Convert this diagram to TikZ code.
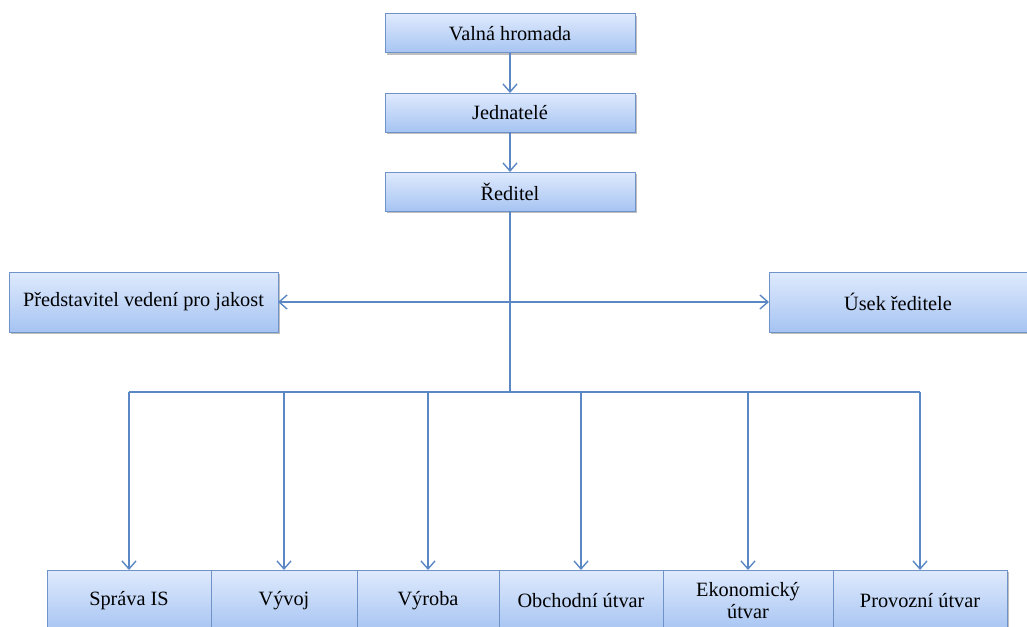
\documentclass[tikz,border=0pt]{standalone}
\usepackage{fontspec}
\setmainfont{Liberation Serif}
\newfontfamily\patkove{Liberation Serif}
\usepackage{tikz}
\usetikzlibrary{
  arrows.meta,
  positioning,
  calc,
  shadows
}
\definecolor{ramecek}{HTML}{6F93C9}
\definecolor{horni}{HTML}{DFEAFD}
\definecolor{dolni}{HTML}{A6C4F2}
\definecolor{cara}{HTML}{5B87C4}

\begin{document}
\begin{tikzpicture}[
      x=1pt, y=-1pt,
      node distance=40pt,
      utvar/.style={draw=ramecek, line width=1pt, top color=horni, bottom color=dolni, outer sep=0pt, align=center, font=\patkove\fontsize{20.3}{22}\selectfont, drop shadow={shadow xshift=1.5pt, shadow yshift=-2pt, opacity=0.25, fill=black}},
      vedeni/.style={utvar, minimum width=250pt, minimum height=39pt},
      bocni/.style={utvar, minimum height=60pt},
      oddeleni/.style={utvar, minimum height=62pt},
      spoj/.style={draw=cara, line width=1.5pt},
      sipka/.style={spoj, -{Straight Barb[length=8pt, width=14pt, line width=1.4pt]}}
  ]
    \clip (0,0) rectangle (1027,626);

    \node [vedeni] at (510,33.5) (valna) {Valná hromada};
    \node [vedeni, below=of valna] (jedn) {Jednatelé};
    \node [vedeni, below=of jedn] (red) {Ředitel};

    \node [bocni, minimum width=269pt] at (143.5,302) (jakost) {Představitel vedení pro jakost};
    \node [bocni, minimum width=258pt] at (898,302) (usek) {Úsek ředitele};

    \node [oddeleni, minimum width=164pt] at (129,601) (sprava) {Správa IS};
    \node [oddeleni, minimum width=146pt, right=0pt of sprava] (vyvoj) {Vývoj};
    \node [oddeleni, minimum width=142pt, right=0pt of vyvoj] (vyroba) {Výroba};
    \node [oddeleni, minimum width=164pt, right=0pt of vyroba] (obchod) {Obchodní útvar};
    \node [oddeleni, minimum width=170pt, right=0pt of obchod] (ekon) {Ekonomický\\útvar};
    \node [oddeleni, minimum width=174pt, right=0pt of ekon] (provoz) {Provozní útvar};

    \draw [sipka] (valna) -- (jedn);
    \draw [sipka] (jedn) -- (red);

    % kmen a odbocky
    \coordinate (uzel) at (red.south |- 0,392);
    \coordinate (bok) at (red.south |- jakost.east);
    \draw [spoj] (red.south) -- (uzel);
    \draw [sipka] (bok) -- (jakost.east);
    \draw [sipka] (bok) -- (usek.west);

    % sbernice k oddelenim
    \draw [spoj] (sprava.north |- uzel) -- (provoz.north |- uzel);
    \foreach \o in {sprava, vyvoj, vyroba, obchod, ekon, provoz}
      \draw [sipka] (\o.north |- uzel) -- (\o.north);
  \end{tikzpicture}
\end{document}
